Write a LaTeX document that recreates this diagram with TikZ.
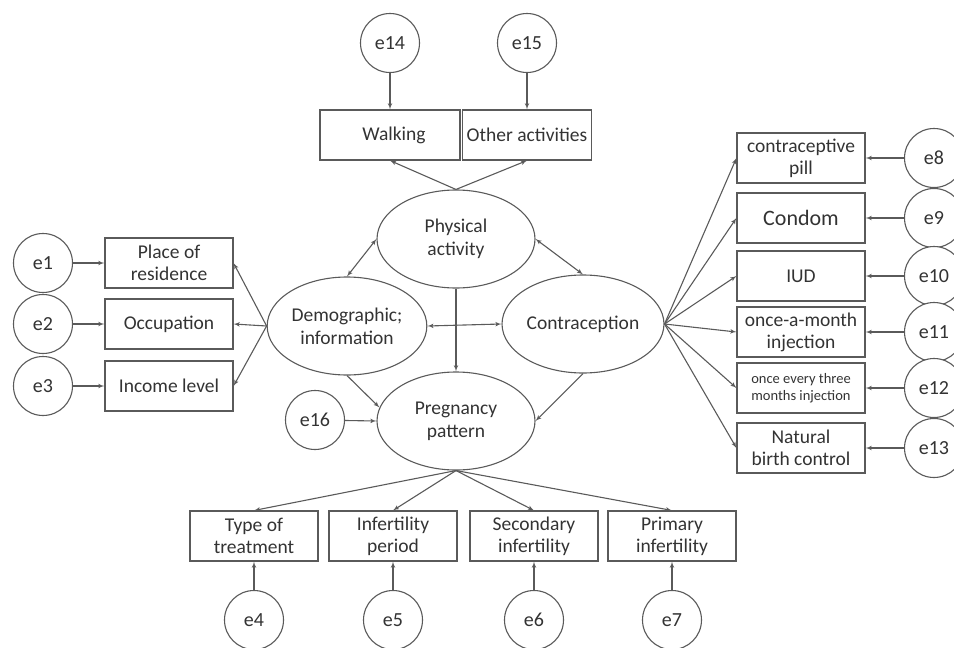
\documentclass[tikz,border=0pt]{standalone}
\usepackage{fontspec}
\setmainfont{Carlito}
\usetikzlibrary{positioning}
\usetikzlibrary{arrows}
\usetikzlibrary{shapes.geometric}
\definecolor{semline}{HTML}{5A5A5A}
\definecolor{semtext}{HTML}{333333}
\tikzset{>=latex'}
\tikzset{lat/.style={draw=semline, ellipse, line width=1.1pt, minimum width=158pt, minimum height=98pt, inner sep=1pt, align=center, text=semtext, font=\fontsize{19.5}{23}\selectfont}}
\tikzset{obs/.style={draw=semline, rectangle, line width=1.1pt, minimum width=128pt, minimum height=50pt, inner sep=1pt, align=center, text=semtext, font=\fontsize{19.5}{22}\selectfont}}
\tikzset{err/.style={draw=semline, circle, line width=1.1pt, minimum size=59pt, inner sep=0pt, fill=white, text=semtext, font=\fontsize{20}{22}\selectfont}}
\tikzset{path/.style={draw=semline, line width=1.1pt}}

\begin{document}
\begin{tikzpicture}[x=1pt, y=-1pt]
\useasboundingbox (0,0) rectangle (954,648);
\begin{scope}[on grid]

\node[lat] (pa) at (456, 239) {Physical\\activity};
\node[lat] (demo) at (347, 326) {Demographic;\\information};
\node[lat] (contra) at (583, 324) {Contraception};
\node[lat] (preg) at (456, 421) {Pregnancy\\pattern};

\node[obs, minimum width=140pt] (walk) at (390, 135) {\hspace{8pt}Walking};
\node[obs, minimum width=129pt] (other) at (527, 135) {Other activities};
\node[err] (e14) [above = 92pt of walk]{e14};
\node[err] (e15) [above = 92pt of other]{e15};

\node[obs] (res) at (169, 263) {Place of\\residence};
\node[obs] (occ) at (169, 324) {Occupation};
\node[obs] (inc) at (169, 386) {Income level};
\node[err] (e1) [left = 126pt of res]{e1};
\node[err] (e2) [left = 126pt of occ]{e2};
\node[err] (e3) [left = 126pt of inc]{e3};

\node[obs] (pill) at (801, 158) {contraceptive\\pill};
\node[obs, font=\fontsize{22}{24}\selectfont] (cond) at (801, 218) {Condom};
\node[obs] (iud) at (801, 276) {IUD};
\node[obs] (month) at (801, 332) {once-a-month\\injection};
\node[obs, font=\fontsize{14.5}{17}\selectfont] (three) at (801, 388) {once every three\\months injection};
\node[obs] (natural) at (801, 448) {Natural\\birth control};
\node[err] (e8) [right = 133pt of pill]{e8};
\node[err] (e9) [right = 133pt of cond]{e9};
\node[err] (e10) [right = 133pt of iud]{e10};
\node[err] (e11) [right = 133pt of month]{e11};
\node[err] (e12) [right = 133pt of three]{e12};
\node[err] (e13) [right = 133pt of natural]{e13};

\node[obs] (treat) at (254, 536) {Type of\\treatment};
\node[obs] (period) at (393, 536) {Infertility\\period};
\node[obs] (second) at (534, 536) {Secondary\\infertility};
\node[obs] (primary) at (672, 536) {Primary\\infertility};
\node[err] (e4) [below = 84pt of treat]{e4};
\node[err] (e5) [below = 84pt of period]{e5};
\node[err] (e6) [below = 84pt of second]{e6};
\node[err] (e7) [below = 84pt of primary]{e7};

\node[err] (e16) at (315, 420) {e16};

\draw[path, ->] (e14) -- (walk);
\draw[path, ->] (e15) -- (other);
\draw[path, ->] (pa.north) -- (walk.south);
\draw[path, ->] (pa.north) -- (other.south);

\draw[path, <->] (pa.west) -- (demo.north);
\draw[path, <->] (pa.east) -- (contra.north);
\draw[path, <->] (demo.east) -- (contra.west);
\draw[path, ->] (pa.south) -- (preg.north);
\draw[path, ->] (demo.south) -- (preg.170);
\draw[path, ->] (contra.south) -- (preg.east);
\draw[path, ->] (e16) -- (preg.west);

\foreach \b/\e in {res/e1, occ/e2, inc/e3}{
\draw[path, ->] (\e) -- (\b);
\draw[path, ->] (demo.west) -- (\b.east);
}

\foreach \b/\e in {pill/e8, cond/e9, iud/e10, month/e11, three/e12, natural/e13}{
\draw[path, ->] (\e) -- (\b);
\draw[path, ->] (contra.east) -- (\b.west);
}

\foreach \b/\e in {treat/e4, period/e5, second/e6, primary/e7}{
\draw[path, ->] (\e) -- (\b);
\draw[path, ->] (preg.south) -- (\b.north);
}
\end{scope}
\end{tikzpicture}
\end{document}
